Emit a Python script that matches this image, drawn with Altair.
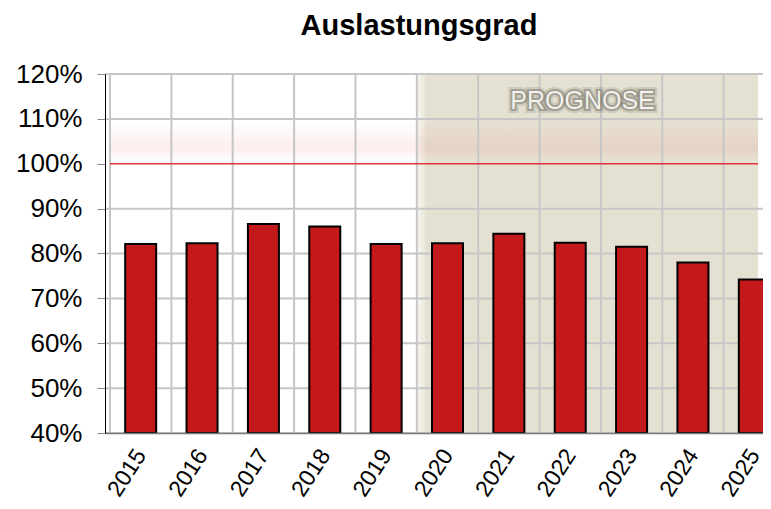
import altair as alt
import pandas as pd

# ---- data ----
years = [2015, 2016, 2017, 2018, 2019, 2020, 2021, 2022, 2023, 2024, 2025]
auslastung = [82.1, 82.3, 86.6, 86.0, 82.1, 82.3, 84.4, 82.4, 81.5, 78.0, 74.2]  # percent
y_ticks = [40, 50, 60, 70, 80, 90, 100, 110, 120]                               # percent
prognose_start = 2020
grenze = 100
chart_title = "Auslastungsgrad"
prognose_label = "PROGNOSE"

# view window (x is cut off on the right in the reference)
X_MIN = years[0] - 0.5
X_MAX = years[-1] + 0.06
Y_MIN = y_ticks[0] / 100
Y_MAX = y_ticks[-1] / 100

FONT = "Liberation Sans"

bars_df = pd.DataFrame({
    "Jahr": years,
    "Wert": [v / 100 for v in auslastung],
    "Basis": [Y_MIN] * len(years),
})
prog_df = pd.DataFrame({"Jahr": [prognose_start - 0.5], "Jahr2": [X_MAX],
                        "Wert": [Y_MIN], "Wert2": [Y_MAX]})
glow_df = pd.DataFrame({"Jahr": [X_MIN], "Jahr2": [X_MAX],
                        "Wert": [grenze / 100 + 0.01], "Wert2": [grenze / 100 + 0.095]})
vgrid_df = pd.DataFrame({"Jahr": [y - 0.5 for y in years]})
hgrid_df = pd.DataFrame({"Wert": [t / 100 for t in y_ticks if t != grenze]})
limit_df = pd.DataFrame({"Jahr": [X_MIN], "Jahr2": [X_MAX], "Wert": [grenze / 100]})
label_df = pd.DataFrame({"Jahr": [2022.2], "Wert": [1.14], "txt": [prognose_label]})

x_scale = alt.Scale(domain=[X_MIN, X_MAX], nice=False, zero=False)
y_scale = alt.Scale(domain=[Y_MIN, Y_MAX], nice=False, zero=False)

x_axis = alt.Axis(values=years, format="d", labelAngle=-57, labelAlign="right",
                  labelBaseline="middle", labelPadding=18, ticks=False, grid=False,
                  domainColor="#7a7a7a", domainWidth=1.5, labelFont=FONT,
                  labelFontSize=23, labelColor="black", labelFlush=False,
                  labelOverlap=False, zindex=1)
y_axis = alt.Axis(values=[t / 100 for t in y_ticks], format=".0%", tickSize=8,
                  tickColor="#8a8a8a", tickWidth=1, domainColor="black", grid=False,
                  domainWidth=1, labelPadding=15, labelFont=FONT, labelFontSize=26,
                  labelColor="black", labelFlush=False, labelOverlap=False, zindex=1)

X = alt.X("Jahr:Q", scale=x_scale, axis=x_axis, title=None)
Y = alt.Y("Wert:Q", scale=y_scale, axis=y_axis, title=None)

prog_rect = alt.Chart(prog_df).mark_rect(
    fill=alt.LinearGradient(
        gradient="linear", x1=0, y1=0, x2=1, y2=0,
        stops=[alt.GradientStop(color="#f6f5ef", offset=0),
               alt.GradientStop(color="#eeebdf", offset=0.02),
               alt.GradientStop(color="#e5e1d2", offset=0.028),
               alt.GradientStop(color="#e5e1d2", offset=1)])
).encode(x=X, x2="Jahr2:Q", y=Y, y2="Wert2:Q")

glow = alt.Chart(glow_df).mark_rect(
    fill=alt.LinearGradient(
        gradient="linear", x1=0, y1=0, x2=0, y2=1,
        stops=[alt.GradientStop(color="rgba(225,60,60,0)", offset=0),
               alt.GradientStop(color="rgba(225,60,60,0.05)", offset=0.4),
               alt.GradientStop(color="rgba(225,60,60,0.09)", offset=0.7),
               alt.GradientStop(color="rgba(225,60,60,0.02)", offset=1)])
).encode(x=X, x2="Jahr2:Q", y=Y, y2="Wert2:Q")

vgrid = alt.Chart(vgrid_df).mark_rule(color="#c6c6c6", strokeWidth=2, clip=True).encode(x=X)
hgrid = alt.Chart(hgrid_df).mark_rule(color="#c6c6c6", strokeWidth=2).encode(y=Y)

limit = alt.Chart(limit_df).mark_rule(
    stroke="#e0343a", strokeWidth=1.5, opacity=1
).encode(x=X, x2="Jahr2:Q", y=Y)

bars = alt.Chart(bars_df).mark_bar(
    size=31, fill="#c3191b", stroke="black", strokeWidth=2, clip=True
).encode(x=X, y=Y, y2="Basis:Q")

label_halo = alt.Chart(label_df).mark_text(
    font=FONT, fontSize=25, stroke="#7b796d", strokeWidth=8, strokeOpacity=0.22,
    fill="#7b796d", baseline="middle", align="center"
).encode(x=X, y=Y, text="txt:N")
label_shadow = alt.Chart(label_df).mark_text(
    font=FONT, fontSize=25, stroke="#7b796d", strokeWidth=4, strokeOpacity=0.5,
    fill="#7b796d", baseline="middle", align="center"
).encode(x=X, y=Y, text="txt:N")
label_text = alt.Chart(label_df).mark_text(
    font=FONT, fontSize=25, fill="#f3f3ef", baseline="middle", align="center"
).encode(x=X, y=Y, text="txt:N")

chart = alt.layer(
    prog_rect, glow, vgrid, hgrid, limit, bars, label_halo, label_shadow, label_text
).properties(
    width=658, height=359,
    title=alt.Title(chart_title, font=FONT, fontSize=29, fontWeight="bold",
                    color="black", offset=20, dx=-15),
    autosize=alt.AutoSizeParams(type="none"),
    padding={"left": 97, "top": 66, "right": 0, "bottom": 68},
).configure_view(stroke=None).configure(background="white")

chart.save("out.html", embed_options={"renderer": "svg", "actions": False})
